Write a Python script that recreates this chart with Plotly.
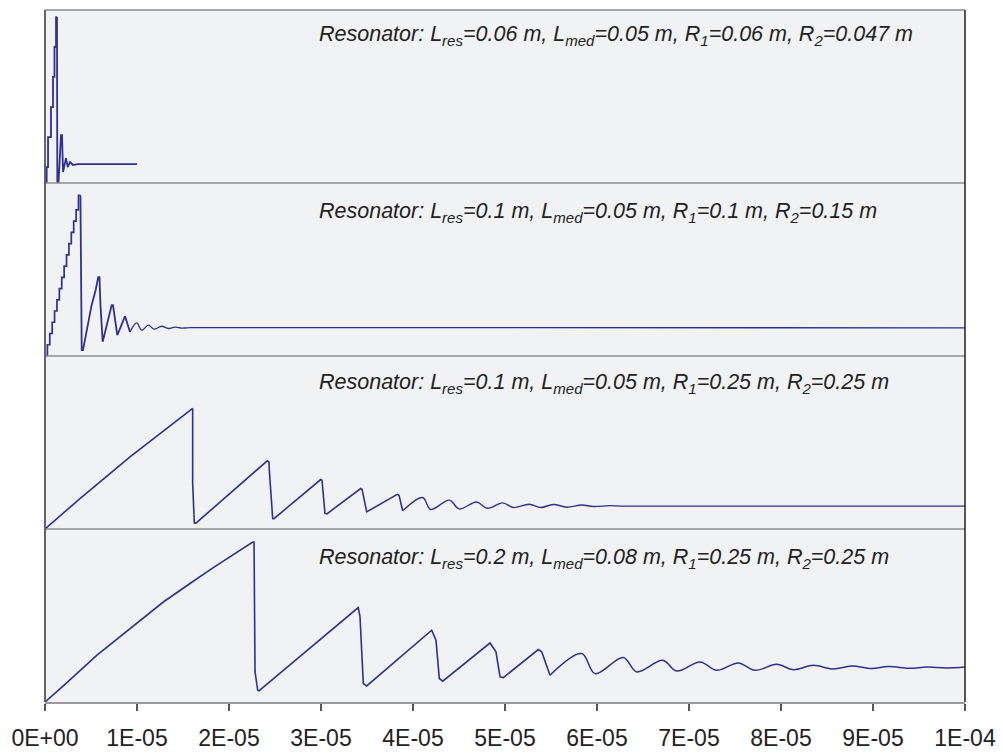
import numpy as np
import plotly.graph_objects as go

# ---------------- data (time in microseconds, amplitude in arbitrary units 0-100) ----------------
tick_vals_us = [0, 10, 20, 30, 40, 50, 60, 70, 80, 90, 100]
tick_labels = ["0E+00", "1E-05", "2E-05", "3E-05", "4E-05", "5E-05",
               "6E-05", "7E-05", "8E-05", "9E-05", "1E-04"]

labels = [
    "Resonator: L<sub>res</sub>=0.06 m, L<sub>med</sub>=0.05 m, R<sub>1</sub>=0.06 m, R<sub>2</sub>=0.047 m",
    "Resonator: L<sub>res</sub>=0.1 m, L<sub>med</sub>=0.05 m, R<sub>1</sub>=0.1 m, R<sub>2</sub>=0.15 m",
    "Resonator: L<sub>res</sub>=0.1 m, L<sub>med</sub>=0.05 m, R<sub>1</sub>=0.25 m, R<sub>2</sub>=0.25 m",
    "Resonator: L<sub>res</sub>=0.2 m, L<sub>med</sub>=0.08 m, R<sub>1</sub>=0.25 m, R<sub>2</sub>=0.25 m",
]

# Panel 1 : staircase rise (hv) then ringing
p1_rise_t = [0.0, 0.18, 0.33, 0.65, 0.87, 1.03, 1.20, 1.30]
p1_rise_a = [0.0, 9.2, 26.5, 43.9, 61.3, 78.6, 95.9, 95.9]
p1_tail_t = [1.30, 1.34, 1.47, 1.74, 1.85, 1.96, 2.28, 2.47, 2.72, 3.04, 3.59, 10.0]
p1_tail_a = [95.9, 0.5, 0.5, 27.7, 27.7, 6.3, 14.4, 9.2, 12.1, 10.4, 10.9, 10.9]

# Panel 2 : staircase rise (hv), ringing, smooth decay
p2_rise_t = [0.0, 0.26, 0.52, 0.78, 1.04, 1.30, 1.56, 1.82, 2.08, 2.34, 2.60,
             2.86, 3.12, 3.38, 3.64, 3.85]
p2_rise_a = [0.0, 6.5, 13.0, 19.5, 26.0, 32.5, 39.0, 45.5, 52.0, 58.5, 65.0,
             71.5, 78.0, 84.5, 92.9, 92.9]
p2_mid_t = [3.85, 3.99, 4.13, 4.60, 5.05, 5.50, 5.79, 5.92, 6.03, 6.27, 6.75, 7.25,
            7.39, 7.86, 8.70, 9.24]
p2_mid_a = [92.9, 3.4, 3.4, 17.0, 29.0, 38.0, 45.6, 45.6, 29.4, 8.2, 18.0, 29.4,
            29.4, 12.0, 23.0, 13.9]
p2_tail_t = [9.24, 9.97, 10.51, 11.23, 11.85, 12.68, 13.40, 14.13, 14.89, 15.76, 100.0]
p2_tail_a = [13.9, 19.1, 14.9, 17.8, 15.5, 17.2, 15.9, 16.7, 16.1, 16.4, 16.3]

# Panel 3
p3_t = [0.0, 3.80, 9.24, 15.95, 16.05, 16.05, 16.23, 16.41, 24.16, 24.35, 24.38, 24.75,
        24.89, 29.97, 30.11, 30.43, 30.65, 34.32, 34.46, 34.97, 38.29, 38.48, 38.88]
p3_a = [0.0, 17.6, 41.7, 69.7, 69.7, 26.5, 3.5, 3.4, 39.4, 38.6, 34.0, 6.1,
        6.0, 28.6, 28.2, 9.0, 8.8, 23.4, 23.0, 9.9, 20.0, 19.5, 10.5]
p3_tail_t = [38.88, 41.05, 41.92, 43.95, 45.03, 46.92, 48.08, 49.75, 50.90, 52.64, 53.88,
             55.25, 56.71, 58.34, 59.60, 61.41, 63.04, 100.0]
p3_tail_a = [10.5, 18.2, 11.3, 16.7, 11.6, 15.6, 12.0, 15.1, 12.4, 14.3, 12.4,
             14.2, 12.6, 13.9, 13.0, 13.5, 13.2, 13.2]

# Panel 4
p4_t = [0.0, 1.99, 5.62, 9.24, 12.86, 15.76, 18.29, 22.58, 22.72, 22.83, 23.12, 23.26,
        34.05, 34.24, 34.60, 34.97, 42.03, 42.50, 42.86, 43.23, 48.37, 49.02, 49.46,
        49.82, 53.62, 53.99, 54.89]
p4_a = [0.0, 9.3, 27.0, 42.5, 57.8, 68.5, 77.7, 92.5, 92.5, 17.4, 6.8, 6.5,
        54.6, 49.2, 10.6, 9.3, 41.5, 35.7, 13.6, 12.0, 34.1, 29.0, 14.5,
        14.1, 30.3, 29.0, 15.5]
p4_tail_t = [54.89, 58.34, 59.78, 62.86, 64.32, 67.14, 68.66, 71.20, 73.01, 75.36,
             77.17, 79.53, 81.34, 83.51, 85.68, 87.68, 89.86, 91.66, 94.02, 95.84, 98.01, 100.0]
p4_tail_a = [15.5, 28.0, 16.4, 25.7, 17.4, 24.1, 17.9, 23.1, 18.3, 22.6,
             18.3, 21.8, 18.7, 21.2, 19.1, 20.8, 19.3, 20.5, 19.5, 20.2, 19.7, 20.2]

# ---------------- figure ----------------
LINE = "#2E3192"
US = 1e-6

fig = go.Figure()
# yaxis ids: top panel -> y4, bottom panel -> y
segments = [
    (p1_rise_t, p1_rise_a, "y4", "hv", 1.8), (p1_tail_t, p1_tail_a, "y4", "linear", 1.8),
    (p2_rise_t, p2_rise_a, "y3", "hv", 1.7), (p2_mid_t, p2_mid_a, "y3", "linear", 1.8),
    (p2_tail_t, p2_tail_a, "y3", "spline", 1.3),
    (p3_t, p3_a, "y2", "linear", 1.6), (p3_tail_t, p3_tail_a, "y2", "spline", 1.4),
    (p4_t, p4_a, "y", "linear", 1.6), (p4_tail_t, p4_tail_a, "y", "spline", 1.5),
]
for t, a, yax, shape, w in segments:
    fig.add_trace(go.Scatter(
        x=np.array(t) * US, y=a, xaxis="x", yaxis=yax, mode="lines",
        line=dict(color=LINE, width=w, shape=shape), showlegend=False,
        hoverinfo="skip"))

yax_common = dict(range=[0, 100], visible=False, fixedrange=True)
fig.update_layout(
    width=1003, height=754,
    margin=dict(l=45, r=38, t=10, b=52, autoexpand=False),
    paper_bgcolor="white",
    plot_bgcolor="#F1F2F4",
    font=dict(family="Liberation Sans, Arial, sans-serif", color="#222222"),
    xaxis=dict(domain=[0, 1], range=[0, 1e-4], anchor="y", automargin=False,
               tickvals=[v * US for v in tick_vals_us], ticktext=tick_labels,
               ticks="outside", ticklen=7, tickwidth=1.5, tickcolor="#555555",
               showline=True, linecolor="#9A9A9A", linewidth=1.5,
               showgrid=False, zeroline=False,
               tickfont=dict(size=23, color="#222222"),
               ticklabelstandoff=8),
    yaxis=dict(domain=[0.0, 0.25], **yax_common),
    yaxis2=dict(domain=[0.25, 0.5], anchor="x", **yax_common),
    yaxis3=dict(domain=[0.5, 0.75], anchor="x", **yax_common),
    yaxis4=dict(domain=[0.75, 1.0], anchor="x", **yax_common),
)

# panel borders
shapes = []
for yv in [0.25, 0.5, 0.75, 1.0]:
    shapes.append(dict(type="line", xref="paper", yref="paper", x0=0, x1=1,
                       y0=yv, y1=yv, line=dict(color="#8C8C8C", width=1.5)))
shapes.append(dict(type="line", xref="paper", yref="paper", x0=0, x1=0, y0=0, y1=1,
                   line=dict(color="#555555", width=1.8)))
shapes.append(dict(type="line", xref="paper", yref="paper", x0=1, x1=1, y0=0, y1=1,
                   line=dict(color="#222222", width=1.5)))
fig.update_layout(shapes=shapes)

plot_h = 754 - 10 - 52
panel_tops = [1.0, 0.75, 0.5, 0.25]
offsets_px = [25, 29, 28, 29]
for lab, top, off in zip(labels, panel_tops, offsets_px):
    fig.add_annotation(text="<i>" + lab + "</i>", xref="paper", yref="paper",
                       x=(317 - 45) / 920, y=top - off / plot_h,
                       xanchor="left", yanchor="middle", showarrow=False,
                       font=dict(size=21.5, color="#222222"))

fig.write_html("out.html", config={"displayModeBar": False},
               post_script="document.body.style.margin='0';document.body.style.overflow='hidden';")
